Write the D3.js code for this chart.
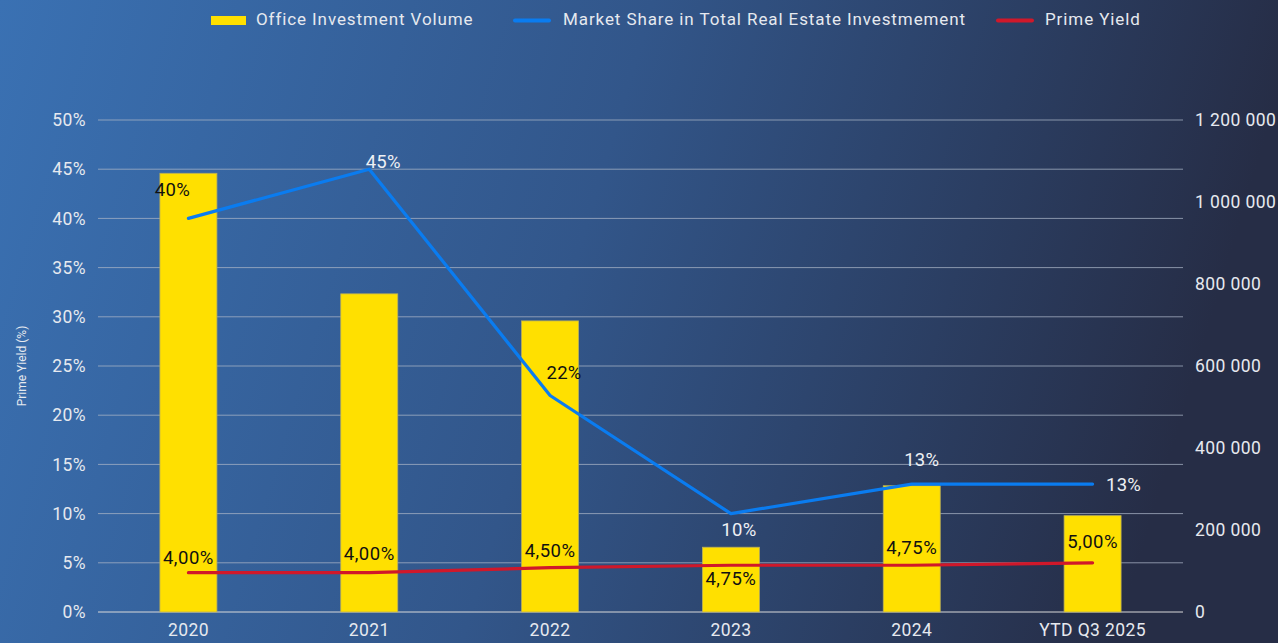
<!DOCTYPE html>
<html><head><meta charset="utf-8">
<script src="https://cdn.jsdelivr.net/npm/d3@7"></script>
<style>html,body{margin:0;padding:0;}svg{display:block;}</style>
</head><body>
<script>
const categories = ["2020","2021","2022","2023","2024","YTD Q3 2025"];
const volume = [1070000, 776000, 710000, 158000, 308000, 235000];
const marketShare = [40, 45, 22, 10, 13, 13];
const primeYield = [4.00, 4.00, 4.50, 4.75, 4.75, 5.00];
const leftTicks = [0,5,10,15,20,25,30,35,40,45,50];
const rightTicks = [0,200000,400000,600000,800000,1000000,1200000];
const legendLabels = ["Office Investment Volume","Market Share in Total Real Estate Investmement","Prime Yield"];

const W = 1278, H = 643;
const svg = d3.select("body").append("svg").attr("width", W).attr("height", H);
const defs = svg.append("defs");
const grad = defs.append("linearGradient").attr("id","bg").attr("x1","0").attr("x2","1").attr("y1","0").attr("y2","0.15");
grad.append("stop").attr("offset","0").attr("stop-color","#3a71b3");
grad.append("stop").attr("offset","0.5").attr("stop-color","#32568a");
grad.append("stop").attr("offset","1").attr("stop-color","#262d46");
svg.append("rect").attr("width",W).attr("height",H).attr("fill","url(#bg)");

const font = "Roboto, 'DejaVu Sans', sans-serif";
const x = d3.scaleBand().domain(categories).range([98, 1183]);
const yL = d3.scaleLinear().domain([0,50]).range([612,120]);
const yR = d3.scaleLinear().domain([0,1200000]).range([612,120]);

// gridlines
svg.append("g").selectAll("line").data(leftTicks).join("line")
  .attr("x1",98).attr("x2",1183)
  .attr("y1",d=>yL(d)).attr("y2",d=>yL(d))
  .attr("stroke",d=>d===0?"#d9d9d9":"#a9b4c6").attr("stroke-opacity",d=>d===0?1:0.75).attr("stroke-width",1);

// left axis
const gl = svg.append("g").attr("transform","translate(98,0)")
  .call(d3.axisLeft(yL).tickValues(leftTicks).tickFormat(d=>d+"%").tickSize(0).tickPadding(12));
gl.select(".domain").remove();
gl.selectAll("text").attr("fill","#e6e9ef").attr("font-size",17.5).attr("letter-spacing",0.4).attr("font-family",font);

// right axis
const gr = svg.append("g").attr("transform","translate(1183,0)")
  .call(d3.axisRight(yR).tickValues(rightTicks).tickFormat(d=>d3.format(",")(d).replace(/,/g," ")).tickSize(0).tickPadding(12));
gr.select(".domain").remove();
gr.selectAll("text").attr("fill","#e6e9ef").attr("font-size",17.5).attr("letter-spacing",0.4).attr("font-family",font);

// bottom axis
const gb = svg.append("g").attr("transform","translate(0,612)")
  .call(d3.axisBottom(x).tickSize(0).tickPadding(12));
gb.select(".domain").remove();
gb.selectAll("text").attr("fill","#e6e9ef").attr("font-size",17.5).attr("letter-spacing",0.4).attr("font-family",font);

// y title
svg.append("text").attr("transform","translate(26,366) rotate(-90)")
  .attr("text-anchor","middle").attr("fill","#e6e9ef").attr("font-size",12).attr("font-family",font)
  .text("Prime Yield (%)");

// bars
const bw = 57;
svg.append("g").selectAll("rect").data(volume).join("rect")
  .attr("x",(d,i)=>x(categories[i])+x.bandwidth()/2-bw/2)
  .attr("width",bw)
  .attr("y",d=>yR(d)).attr("height",d=>612-yR(d))
  .attr("fill","#ffe000").attr("stroke","#b9ae5a").attr("stroke-width",0.8);

const cx = (i)=>x(categories[i])+x.bandwidth()/2;

// lines
const lineMS = d3.line().x((d,i)=>cx(i)).y(d=>yL(d));
svg.append("path").datum(marketShare).attr("d",lineMS).attr("fill","none")
  .attr("stroke","#0a7cf0").attr("stroke-width",3.2).attr("stroke-linecap","round").attr("stroke-linejoin","round");
svg.append("path").datum(primeYield).attr("d",lineMS).attr("fill","none")
  .attr("stroke","#d0182a").attr("stroke-width",3.2).attr("stroke-linecap","round").attr("stroke-linejoin","round");

// market share labels
const msOff = [[-16,-27,"#111"],[14,-6,"#eef0f4"],[14,-21,"#111"],[8,18,"#eef0f4"],[10,-23,"#eef0f4"],[31,2,"#eef0f4"]];
svg.append("g").selectAll("text").data(marketShare).join("text")
  .attr("x",(d,i)=>cx(i)+msOff[i][0]).attr("y",(d,i)=>yL(d)+msOff[i][1])
  .attr("text-anchor","middle").attr("dominant-baseline","middle")
  .attr("fill",(d,i)=>msOff[i][2]).attr("font-size",18.5).attr("letter-spacing",0.3).attr("font-family",font)
  .text(d=>d+"%");

// yield labels
const pyOff = [-14,-18,-16,15,-16,-20];
svg.append("g").selectAll("text").data(primeYield).join("text")
  .attr("x",(d,i)=>cx(i)).attr("y",(d,i)=>yL(d)+pyOff[i])
  .attr("text-anchor","middle").attr("dominant-baseline","middle")
  .attr("fill","#111").attr("font-size",18.5).attr("letter-spacing",0.5).attr("font-family",font)
  .text(d=>d3.format(".2f")(d).replace(".",",")+"%");

// legend
const lg = svg.append("g");
const lx = [211, 513, 996];
lg.append("rect").attr("x",lx[0]).attr("y",16).attr("width",35).attr("height",9).attr("fill","#ffe000");
lg.append("line").attr("x1",lx[1]+2).attr("x2",lx[1]+36).attr("y1",20.5).attr("y2",20.5).attr("stroke","#0a7cf0").attr("stroke-width",4).attr("stroke-linecap","round");
lg.append("line").attr("x1",lx[2]+2).attr("x2",lx[2]+36).attr("y1",20.5).attr("y2",20.5).attr("stroke","#d0182a").attr("stroke-width",4).attr("stroke-linecap","round");
const ltx = [256, 563, 1045];
lg.selectAll("text.l").data(legendLabels).join("text").attr("class","l")
  .attr("x",(d,i)=>ltx[i]).attr("y",21).attr("dominant-baseline","middle")
  .attr("fill","#e6e9ef").attr("font-size",17).attr("letter-spacing",0.9).attr("font-family",font)
  .text(d=>d);
</script>
</body></html>
